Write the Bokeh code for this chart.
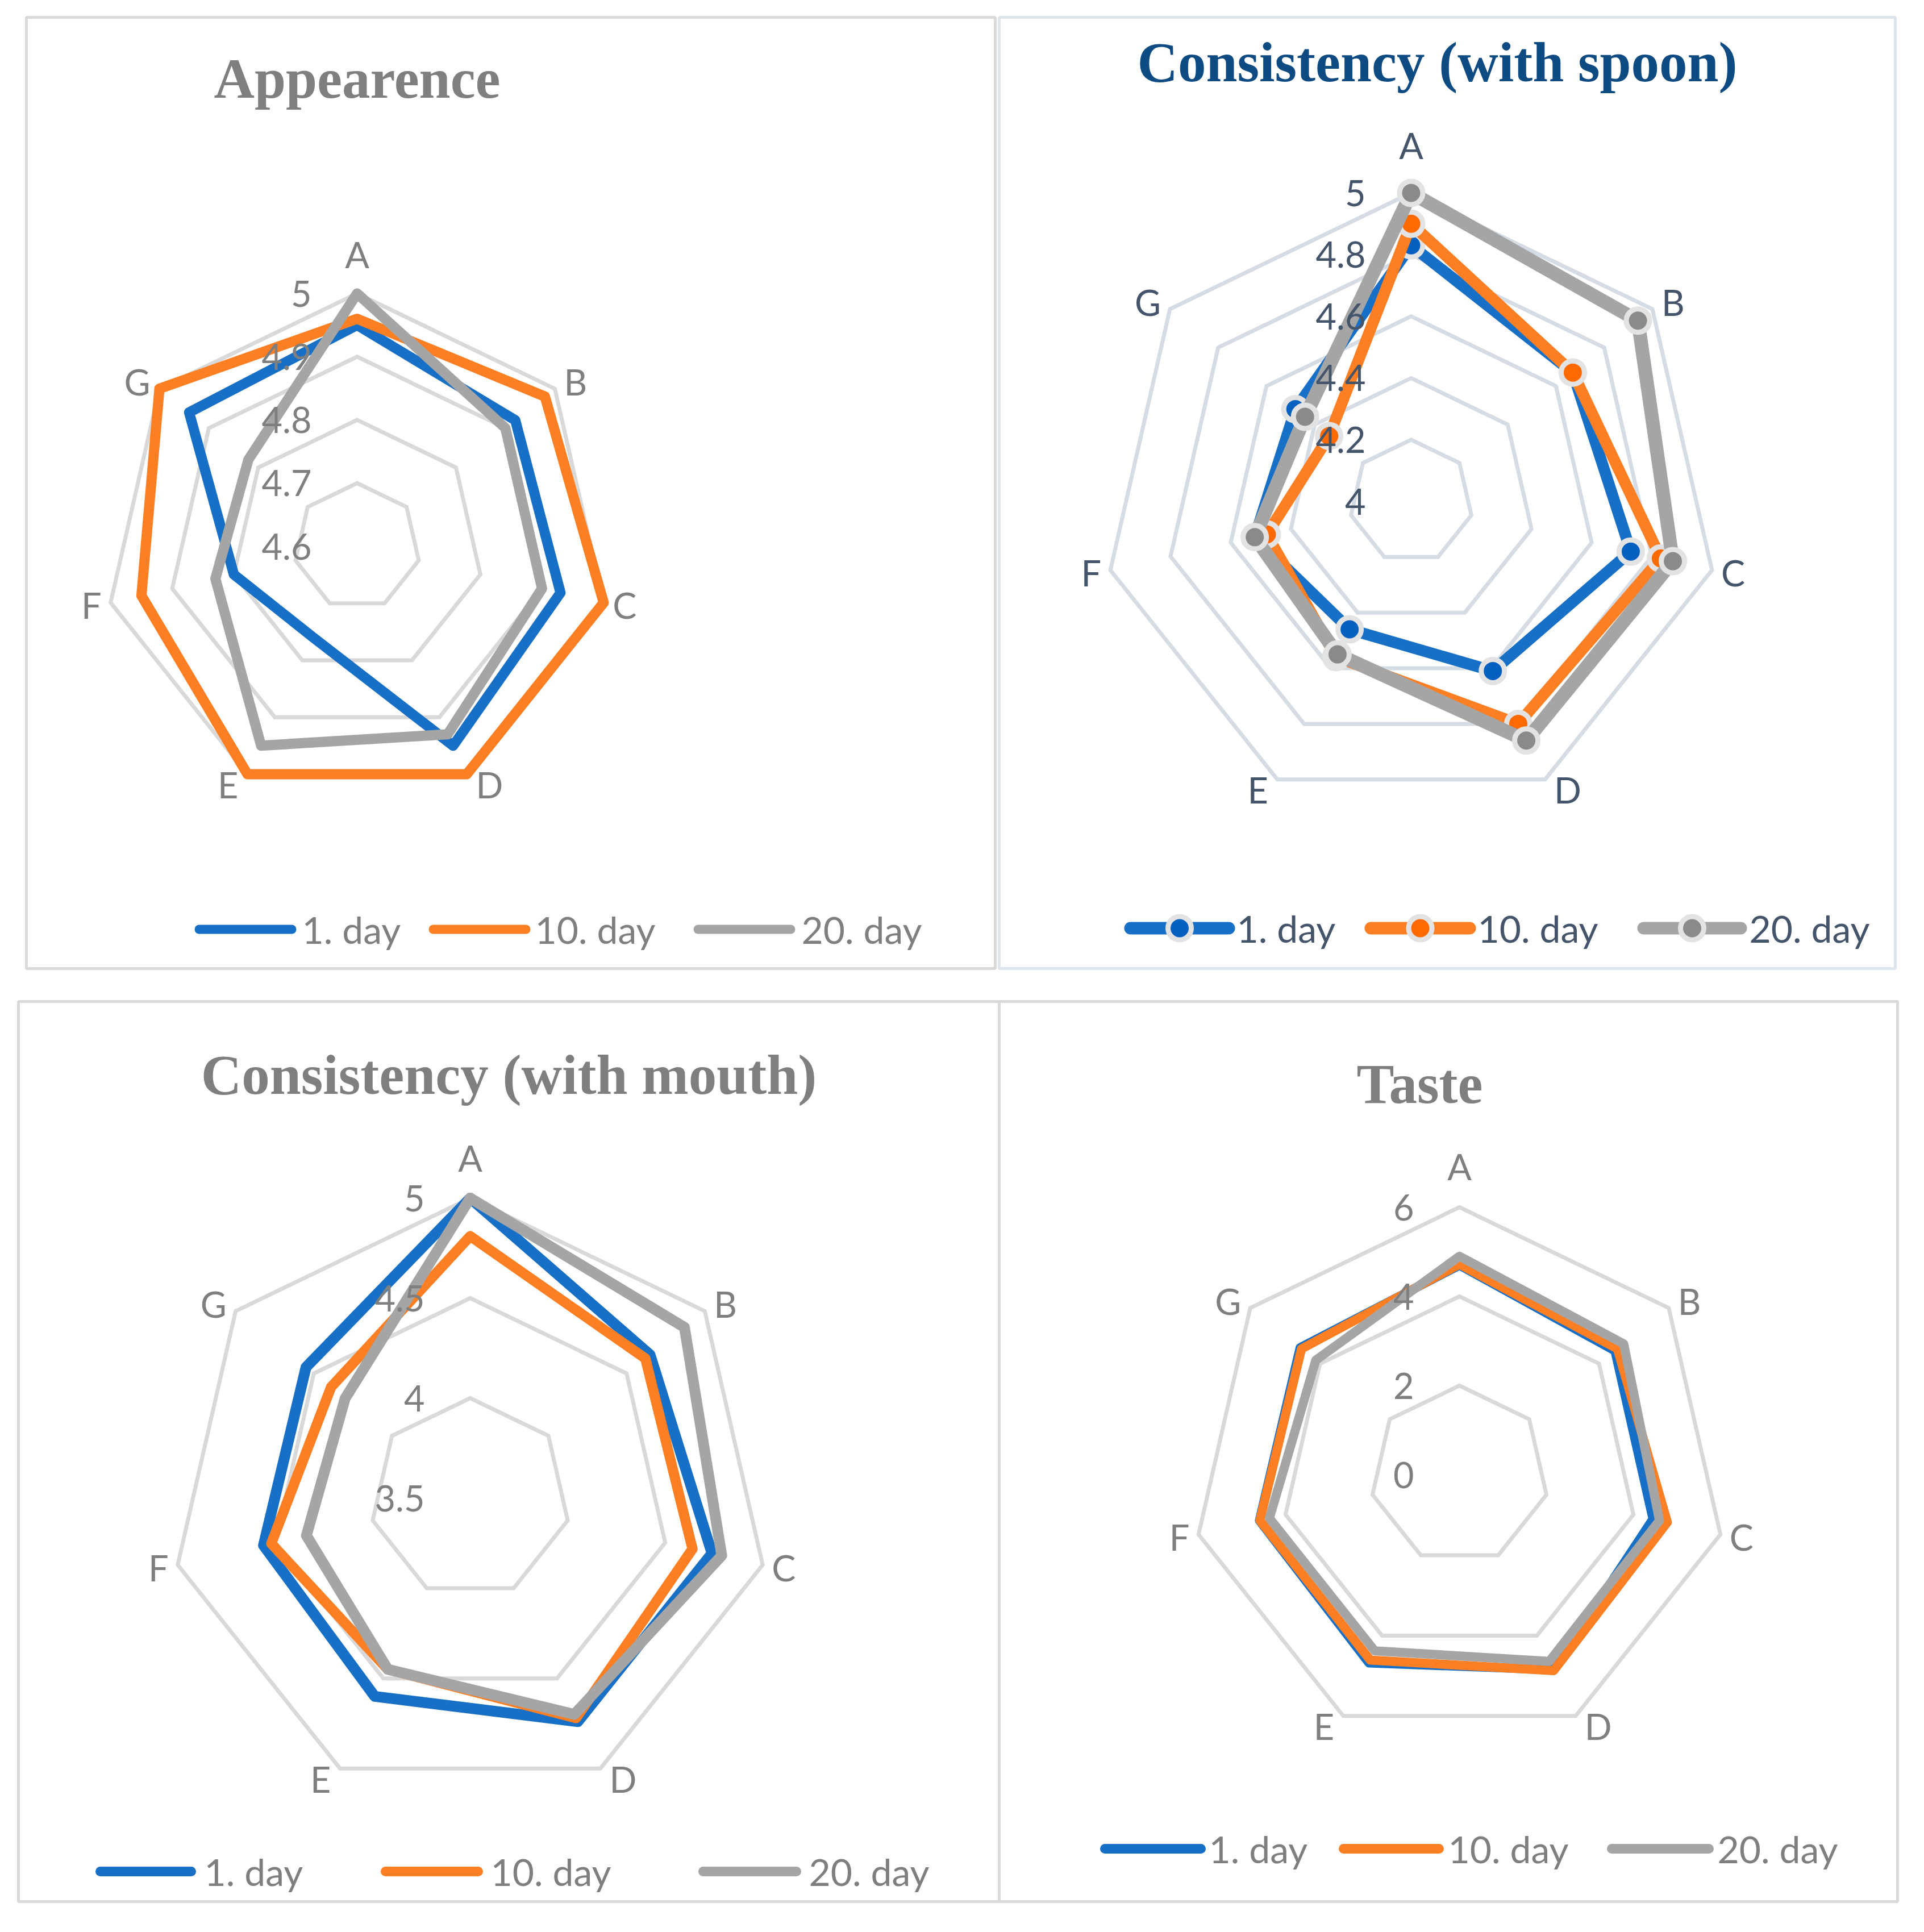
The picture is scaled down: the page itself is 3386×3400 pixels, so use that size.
import numpy as np
from bokeh.plotting import figure
from bokeh.models import Range1d, Label
from bokeh.core.properties import value
from bokeh.embed import file_html
from bokeh.resources import INLINE

# ---------------- data ----------------
categories = ["A", "B", "C", "D", "E", "F", "G"]
series_names = ["1. day", "10. day", "20. day"]

appearance_day1 = [4.95, 4.92, 4.93, 4.95, 4.76, 4.80, 4.94]
appearance_day10 = [4.96, 4.98, 5.00, 5.00, 5.00, 4.95, 5.00]
appearance_day20 = [5.00, 4.90, 4.90, 4.93, 4.95, 4.83, 4.82]
appearance_ticks = [4.6, 4.7, 4.8, 4.9, 5.0]
appearance_tick_labels = ["4.6", "4.7", "4.8", "4.9", "5"]

spoon_day1 = [4.83, 4.67, 4.73, 4.61, 4.46, 4.52, 4.48]
spoon_day10 = [4.90, 4.67, 4.83, 4.80, 4.56, 4.48, 4.34]
spoon_day20 = [5.00, 4.94, 4.87, 4.86, 4.55, 4.52, 4.44]
spoon_ticks = [4.0, 4.2, 4.4, 4.6, 4.8, 5.0]
spoon_tick_labels = ["4", "4.2", "4.4", "4.6", "4.8", "5"]

mouth_day1 = [5.00, 4.65, 4.74, 4.74, 4.60, 4.56, 4.55]
mouth_day10 = [4.81, 4.62, 4.64, 4.72, 4.45, 4.52, 4.39]
mouth_day20 = [5.00, 4.87, 4.79, 4.70, 4.45, 4.34, 4.30]
mouth_ticks = [3.5, 4.0, 4.5, 5.0]
mouth_tick_labels = ["3.5", "4", "4.5", "5"]

taste_day1 = [4.70, 4.46, 4.45, 4.85, 4.68, 4.60, 4.57]
taste_day10 = [4.72, 4.53, 4.78, 4.87, 4.61, 4.59, 4.53]
taste_day20 = [4.90, 4.71, 4.60, 4.64, 4.38, 4.37, 4.12]
taste_ticks = [0, 2, 4, 6]
taste_tick_labels = ["0", "2", "4", "6"]

# ---------------- styles ----------------
LINE_COLORS = ["#1870C6", "#FD7F24", "#A5A5A5"]
MARKER_COLORS = ["#0560C0", "#FF6A00", "#8A8A8A"]
GRAY_TEXT = "#7F7F7F"
SLATE_TEXT = "#44546A"
SANS = "Lato"
SERIF = "Liberation Serif"

W, H = 3370, 3384
p = figure(width=W, height=H, output_backend="svg", toolbar_location=None,
           x_range=Range1d(8, 8 + W), y_range=Range1d(8 + H, 8),
           min_border=0, outline_line_color=None)
p.axis.visible = False
p.grid.visible = False
p.background_fill_color = "white"
p.border_fill_color = "white"

# panel frames
frames = [
    dict(l=54, r=1759, t=38, b=1712, c="#D9D9D9"),
    dict(l=1766, r=3343, t=38, b=1712, c="#DEE4EC"),
    dict(l=40, r=1766, t=1770, b=3354, c="#D9D9D9"),
    dict(l=1766, r=3347, t=1770, b=3354, c="#D9D9D9"),
]
for f in frames:
    p.quad(left=[f["l"]], right=[f["r"]], top=[f["t"]], bottom=[f["b"]],
           fill_color=None, line_color=f["c"], line_width=5)

panels = [
    dict(title="Appearence", title_xy=(636, 146), title_color=GRAY_TEXT,
         series=[appearance_day1, appearance_day10, appearance_day20],
         ticks=appearance_ticks, tick_labels=appearance_tick_labels,
         cx=636, cy=969, R=445, grid_color="#D9D9D9", text_color=GRAY_TEXT,
         widths=[18, 18, 18], markers=False, a_gap=69,
         legend_y=1643, legend=[(358, 521, 539), (770, 933, 949), (1236, 1399, 1418)],
         legend_width=16),
    dict(title="Consistency (with spoon)", title_xy=(2537, 117), title_color="#0E4B82",
         series=[spoon_day1, spoon_day10, spoon_day20],
         ticks=spoon_ticks, tick_labels=spoon_tick_labels,
         cx=2491, cy=890, R=543, grid_color="#D6DCE4", text_color=SLATE_TEXT,
         widths=[20, 20, 24], markers=True, a_gap=84,
         legend_y=1641, legend=[(1997, 2170, 2184), (2420, 2594, 2608), (2900, 3071, 3086)],
         legend_width=22),
    dict(title="Consistency (with mouth)", title_xy=(903, 1899), title_color=GRAY_TEXT,
         series=[mouth_day1, mouth_day10, mouth_day20],
         ticks=mouth_ticks, tick_labels=mouth_tick_labels,
         cx=835, cy=2644, R=528, grid_color="#D9D9D9", text_color=GRAY_TEXT,
         widths=[19, 18, 19], markers=False, a_gap=71,
         legend_y=3301, legend=[(184, 344, 367), (686, 849, 871), (1245, 1409, 1431)],
         legend_width=17),
    dict(title="Taste", title_xy=(2506, 1915), title_color=GRAY_TEXT,
         series=[taste_day1, taste_day10, taste_day20],
         ticks=taste_ticks, tick_labels=taste_tick_labels,
         cx=2576, cy=2603, R=471, grid_color="#D9D9D9", text_color=GRAY_TEXT,
         widths=[16, 16, 16], markers=False, a_gap=72,
         legend_y=3261, legend=[(1952, 2121, 2135), (2372, 2540, 2556), (2844, 3015, 3030)],
         legend_width=17),
]

n = len(categories)
theta = 2 * np.pi * np.arange(n) / n
ux = np.sin(theta)
uy = -np.cos(theta)  # screen y goes down

for pn in panels:
    cx, cy, R = pn["cx"], pn["cy"], pn["R"]
    vmin, vmax = pn["ticks"][0], pn["ticks"][-1]

    def radius(v):
        return R * (np.asarray(v, dtype=float) - vmin) / (vmax - vmin)

    # grid rings
    for t in pn["ticks"][1:]:
        r = radius(t)
        p.patch(list(cx + r * ux), list(cy + r * uy), fill_color=None,
                line_color=pn["grid_color"], line_width=7, line_join="miter")

    # series
    for s, vals in enumerate(pn["series"]):
        r = radius(vals)
        xs = list(cx + r * ux)
        ys = list(cy + r * uy)
        p.patch(xs, ys, fill_color=None, line_color=LINE_COLORS[s],
                line_width=pn["widths"][s], line_join="round")
        if pn["markers"]:
            p.scatter(xs, ys, size=41, marker="circle", fill_color=MARKER_COLORS[s],
                      line_color="#E3E3E3", line_width=9)

    # tick labels
    tick_r = radius(pn["ticks"])
    p.text(x=[cx - 80] * len(tick_r), y=[float(cy - t) for t in tick_r], text=pn["tick_labels"],
           text_font=value(SANS), text_font_size="63px", text_color=pn["text_color"],
           text_align="right", text_baseline="middle")

    # category labels
    lx, ly, la = [], [], []
    for k in range(n):
        vx, vy = cx + R * ux[k], cy + R * uy[k]
        if k == 0:
            lx.append(float(vx)); ly.append(float(vy - pn["a_gap"])); la.append("center")
        else:
            lx.append(float(vx + (16 if ux[k] > 0 else -16)))
            ly.append(float(vy + uy[k] * 20))
            la.append("left" if ux[k] > 0 else "right")
    p.text(x=lx, y=ly, text=categories, text_font=value(SANS), text_font_size="63px",
           text_color=pn["text_color"], text_align=la, text_baseline="middle")

    # legend
    ly0 = pn["legend_y"]
    for s, (x0, x1, xt) in enumerate(pn["legend"]):
        p.line([x0, x1], [ly0, ly0], line_color=LINE_COLORS[s],
               line_width=pn["legend_width"], line_cap="round")
        if pn["markers"]:
            p.scatter([(x0 + x1) / 2], [ly0], size=41, marker="circle",
                      fill_color=MARKER_COLORS[s], line_color="#E3E3E3", line_width=9)
        p.text(x=[xt], y=[ly0], text=[series_names[s]], text_font=value(SANS),
               text_font_size="66px", text_color=pn["text_color"],
               text_align="left", text_baseline="middle")

# titles as annotations (font size 99px: "bold 100px" trips the SVG font parser)
for pn in panels:
    tx, ty = pn["title_xy"]
    p.add_layout(Label(x=tx, y=ty, x_units="data", y_units="data", text=pn["title"],
                       text_font=SERIF, text_font_size="99px", text_font_style="bold",
                       text_color=pn["title_color"], text_align="center",
                       text_baseline="alphabetic"))

open("out.html", "w").write(file_html(p, INLINE))
